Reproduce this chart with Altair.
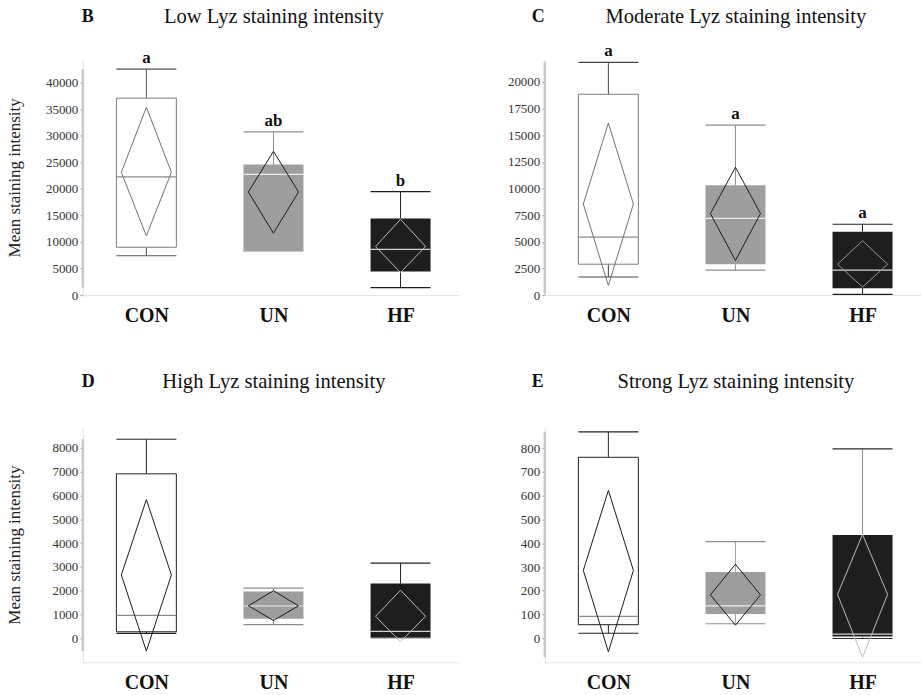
import json

import altair as alt
import pandas as pd

FONT = "Liberation Serif"

GROUPS = ["CON", "UN", "HF"]

# Low Lyz staining intensity (panel B)
LOW_MIN = [7400, 8300, 1400]
LOW_Q1 = [9000, 8300, 4450]
LOW_MED = [22250, 22700, 8600]
LOW_Q3 = [37050, 24550, 14400]
LOW_MAX = [42500, 30700, 19450]
LOW_MEAN = [23100, 19400, 9150]
LOW_CI_LO = [11150, 11650, 4250]
LOW_CI_HI = [35350, 27050, 14250]
LOW_LETTERS = ["a", "ab", "b"]

# Moderate Lyz staining intensity (panel C)
MOD_MIN = [1700, 2350, 60]
MOD_Q1 = [2900, 2900, 650]
MOD_MED = [5450, 7200, 2350]
MOD_Q3 = [18850, 10300, 5950]
MOD_MAX = [21850, 15950, 6650]
MOD_MEAN = [8550, 7650, 2900]
MOD_CI_LO = [900, 3250, 750]
MOD_CI_HI = [16150, 12000, 5100]
MOD_LETTERS = ["a", "a", "a"]

# High Lyz staining intensity (panel D)
HIGH_MIN = [210, 580, 30]
HIGH_Q1 = [280, 830, 60]
HIGH_MED = [970, 1360, 300]
HIGH_Q3 = [6900, 1970, 2300]
HIGH_MAX = [8350, 2110, 3160]
HIGH_MEAN = [2660, 1370, 930]
HIGH_CI_LO = [-530, 750, -140]
HIGH_CI_HI = [5820, 2000, 2020]

# Strong Lyz staining intensity (panel E)
STRONG_MIN = [22, 62, 0]
STRONG_Q1 = [58, 103, 8]
STRONG_MED = [93, 137, 18]
STRONG_Q3 = [761, 279, 435]
STRONG_MAX = [868, 407, 796]
STRONG_MEAN = [286, 183, 185]
STRONG_CI_LO = [-56, 56, -79]
STRONG_CI_HI = [622, 312, 437]

# Axis tick values per panel
LOW_TICKS = list(range(0, 40001, 5000))
MOD_TICKS = list(range(0, 20001, 2500))
HIGH_TICKS = list(range(0, 8001, 1000))
STRONG_TICKS = list(range(0, 801, 100))

# ---- layout / style constants ----
X_DOMAIN = [-0.5, 2.46]
BOX_HALF = 0.236
DIAMOND_HALF = 0.197
PANEL_W = 377
PANEL_H = 236

FILL = ["#ffffff", "#9e9e9e", "#1e1e1e"]
MEDIAN = ["#8a8a8a", "#ececec", "#d4d4d4"]
LABEL_EXPR = json.dumps(GROUPS) + "[datum.value]"


def stats_frame(mins, q1s, meds, q3s, maxs, means, lo, hi, letters=None):
    pos = list(range(len(GROUPS)))
    df = pd.DataFrame({
        "group": GROUPS, "pos": pos,
        "min": mins, "q1": q1s, "med": meds, "q3": q3s, "max": maxs,
        "mean": means, "ci_lo": lo, "ci_hi": hi,
    })
    df["left"] = df["pos"] - BOX_HALF
    df["right"] = df["pos"] + BOX_HALF
    df["letter"] = letters if letters else [""] * len(GROUPS)
    return df


def diamond_frame(df):
    rows = []
    for _, r in df.iterrows():
        pts = [
            (r.pos - DIAMOND_HALF, r["mean"]),
            (r.pos, r.ci_hi),
            (r.pos + DIAMOND_HALF, r["mean"]),
            (r.pos, r.ci_lo),
            (r.pos - DIAMOND_HALF, r["mean"]),
        ]
        for k, (x, y) in enumerate(pts):
            rows.append({"group": r.group, "x": x, "y": y, "k": k})
    return pd.DataFrame(rows)


def panel(df, y_domain, ticks, letter, title, ink, whisk, caps, diamond,
          show_title, letter_dx, title_dy):
    y_axis = alt.Axis(
        values=ticks, format="d", grid=False,
        labelFont=FONT, labelFontSize=13, labelColor="#333", labelPadding=2,
        tickColor="#a0a0a0", tickSize=3, domainColor="#e2e2e2",
        minExtent=40, maxExtent=40,
        title="Mean staining intensity" if show_title else None,
        titleFont=FONT, titleFontSize=17, titleFontWeight="normal",
        titleColor="#222", titlePadding=19,
    )
    x_axis = alt.Axis(
        values=[0, 1, 2], labelExpr=LABEL_EXPR, ticks=False, grid=False,
        domainColor="#e2e2e2", labelFont=FONT, labelFontSize=20,
        labelFontWeight="bold", labelColor="#111", labelPadding=10, title=None,
    )
    xs = alt.Scale(domain=X_DOMAIN, nice=False, zero=False)
    ys = alt.Scale(domain=y_domain, nice=False, zero=False)

    def X(f):
        return alt.X(f, type="quantitative", scale=xs, axis=x_axis)

    def Y(f):
        return alt.Y(f, type="quantitative", scale=ys, axis=y_axis)

    def gscale(rng):
        return alt.Color("group:N", scale=alt.Scale(domain=GROUPS, range=rng),
                         legend=None)

    base = alt.Chart(df)

    # range band along the value axis
    span = pd.DataFrame({
        "lo": [min(df["min"].min(), df["ci_lo"].min())],
        "hi": [max(df["max"].max(), df["ci_hi"].max())],
    })
    band = alt.Chart(span).mark_rule(color="#c9c9c9", strokeWidth=2.5).encode(
        x=alt.value(0), y=Y("lo"), y2="hi")

    whisk_up = base.mark_rule(strokeWidth=1).encode(
        x=X("pos"), y=Y("q3"), y2="max", color=gscale(whisk))
    whisk_dn = base.mark_rule(strokeWidth=1).encode(
        x=X("pos"), y=Y("min"), y2="q1", color=gscale(whisk))
    cap_hi = base.mark_rule(strokeWidth=1.2).encode(
        x=X("left"), x2="right", y=Y("max"), color=gscale(caps))
    cap_lo = base.mark_rule(strokeWidth=1.2).encode(
        x=X("left"), x2="right", y=Y("min"), color=gscale(caps))
    boxes = base.mark_rect().encode(
        x=X("left"), x2="right", y=Y("q1"), y2="q3", color=gscale(FILL))
    con_outline = base.transform_filter(alt.datum.group == "CON").mark_rect(
        filled=False, stroke=ink, strokeWidth=1).encode(
        x=X("left"), x2="right", y=Y("q1"), y2="q3")
    medians = base.mark_rule(strokeWidth=1.2).encode(
        x=X("left"), x2="right", y=Y("med"), color=gscale(MEDIAN))
    diamonds = alt.Chart(diamond_frame(df)).mark_line(strokeWidth=1).encode(
        x=X("x"), y=Y("y"), order="k:Q", detail="group:N", color=gscale(diamond))
    letters = base.mark_text(
        font=FONT, fontSize=17, fontWeight="bold", baseline="alphabetic",
        dy=-6, color="#111").encode(x=X("pos"), y=Y("max"), text="letter:N")

    head = pd.DataFrame({"letter": [letter], "title": [title]})
    letter_mark = alt.Chart(head).mark_text(
        font=FONT, fontSize=18, fontWeight="bold", align="left",
        baseline="middle", color="#111").encode(
        x=alt.value(letter_dx), y=alt.value(title_dy), text="letter:N")
    title_mark = alt.Chart(head).mark_text(
        font=FONT, fontSize=20.6, align="center", baseline="middle",
        color="#111").encode(
        x=alt.value(PANEL_W / 2 + 3), y=alt.value(title_dy), text="title:N")

    return alt.layer(
        band, whisk_up, whisk_dn, cap_hi, cap_lo, boxes, con_outline,
        medians, diamonds, letters, letter_mark, title_mark,
    ).resolve_scale(color="independent").properties(width=PANEL_W, height=PANEL_H)


low = stats_frame(LOW_MIN, LOW_Q1, LOW_MED, LOW_Q3, LOW_MAX, LOW_MEAN,
                  LOW_CI_LO, LOW_CI_HI, LOW_LETTERS)
mod = stats_frame(MOD_MIN, MOD_Q1, MOD_MED, MOD_Q3, MOD_MAX, MOD_MEAN,
                  MOD_CI_LO, MOD_CI_HI, MOD_LETTERS)
high = stats_frame(HIGH_MIN, HIGH_Q1, HIGH_MED, HIGH_Q3, HIGH_MAX, HIGH_MEAN,
                   HIGH_CI_LO, HIGH_CI_HI)
strong = stats_frame(STRONG_MIN, STRONG_Q1, STRONG_MED, STRONG_Q3, STRONG_MAX,
                     STRONG_MEAN, STRONG_CI_LO, STRONG_CI_HI)

p_b = panel(low, [0, 44300], LOW_TICKS, "B", "Low Lyz staining intensity",
            "#7a7a7a", ["#555555", "#8c8c8c", "#1e1e1e"],
            ["#555555", "#8c8c8c", "#1e1e1e"],
            ["#707070", "#1a1a1a", "#bdbdbd"], True, -1, -43)
p_c = panel(mod, [0, 22100], MOD_TICKS, "C", "Moderate Lyz staining intensity",
            "#7a7a7a", ["#444444", "#8c8c8c", "#1e1e1e"],
            ["#444444", "#8c8c8c", "#1e1e1e"],
            ["#707070", "#1a1a1a", "#9a9a9a"], False, -13, -43)
p_d = panel(high, [-1000, 8870], HIGH_TICKS, "D", "High Lyz staining intensity",
            "#1e1e1e", ["#222222", "#8c8c8c", "#222222"],
            ["#222222", "#8c8c8c", "#222222"],
            ["#1a1a1a", "#1a1a1a", "#bdbdbd"], True, -1, -45)
p_e = panel(strong, [-100, 889], STRONG_TICKS, "E", "Strong Lyz staining intensity",
            "#1e1e1e", ["#222222", "#a0a0a0", "#8a8a8a"],
            ["#222222", "#8c8c8c", "#2a2a2a"],
            ["#1a1a1a", "#1a1a1a", "#bdbdbd"], False, -13, -45)

chart = alt.vconcat(
    alt.hconcat(p_b, p_c, spacing=46),
    alt.hconcat(p_d, p_e, spacing=46),
    spacing=47,
).properties(
    padding={"left": 6, "top": 6, "right": 0, "bottom": 0},
    background="white",
).configure(
    font=FONT,
).configure_axis(
    labelFont=FONT, titleFont=FONT,
).configure_view(stroke=None)

chart.save("out.html", embed_options={"renderer": "svg", "actions": False})
